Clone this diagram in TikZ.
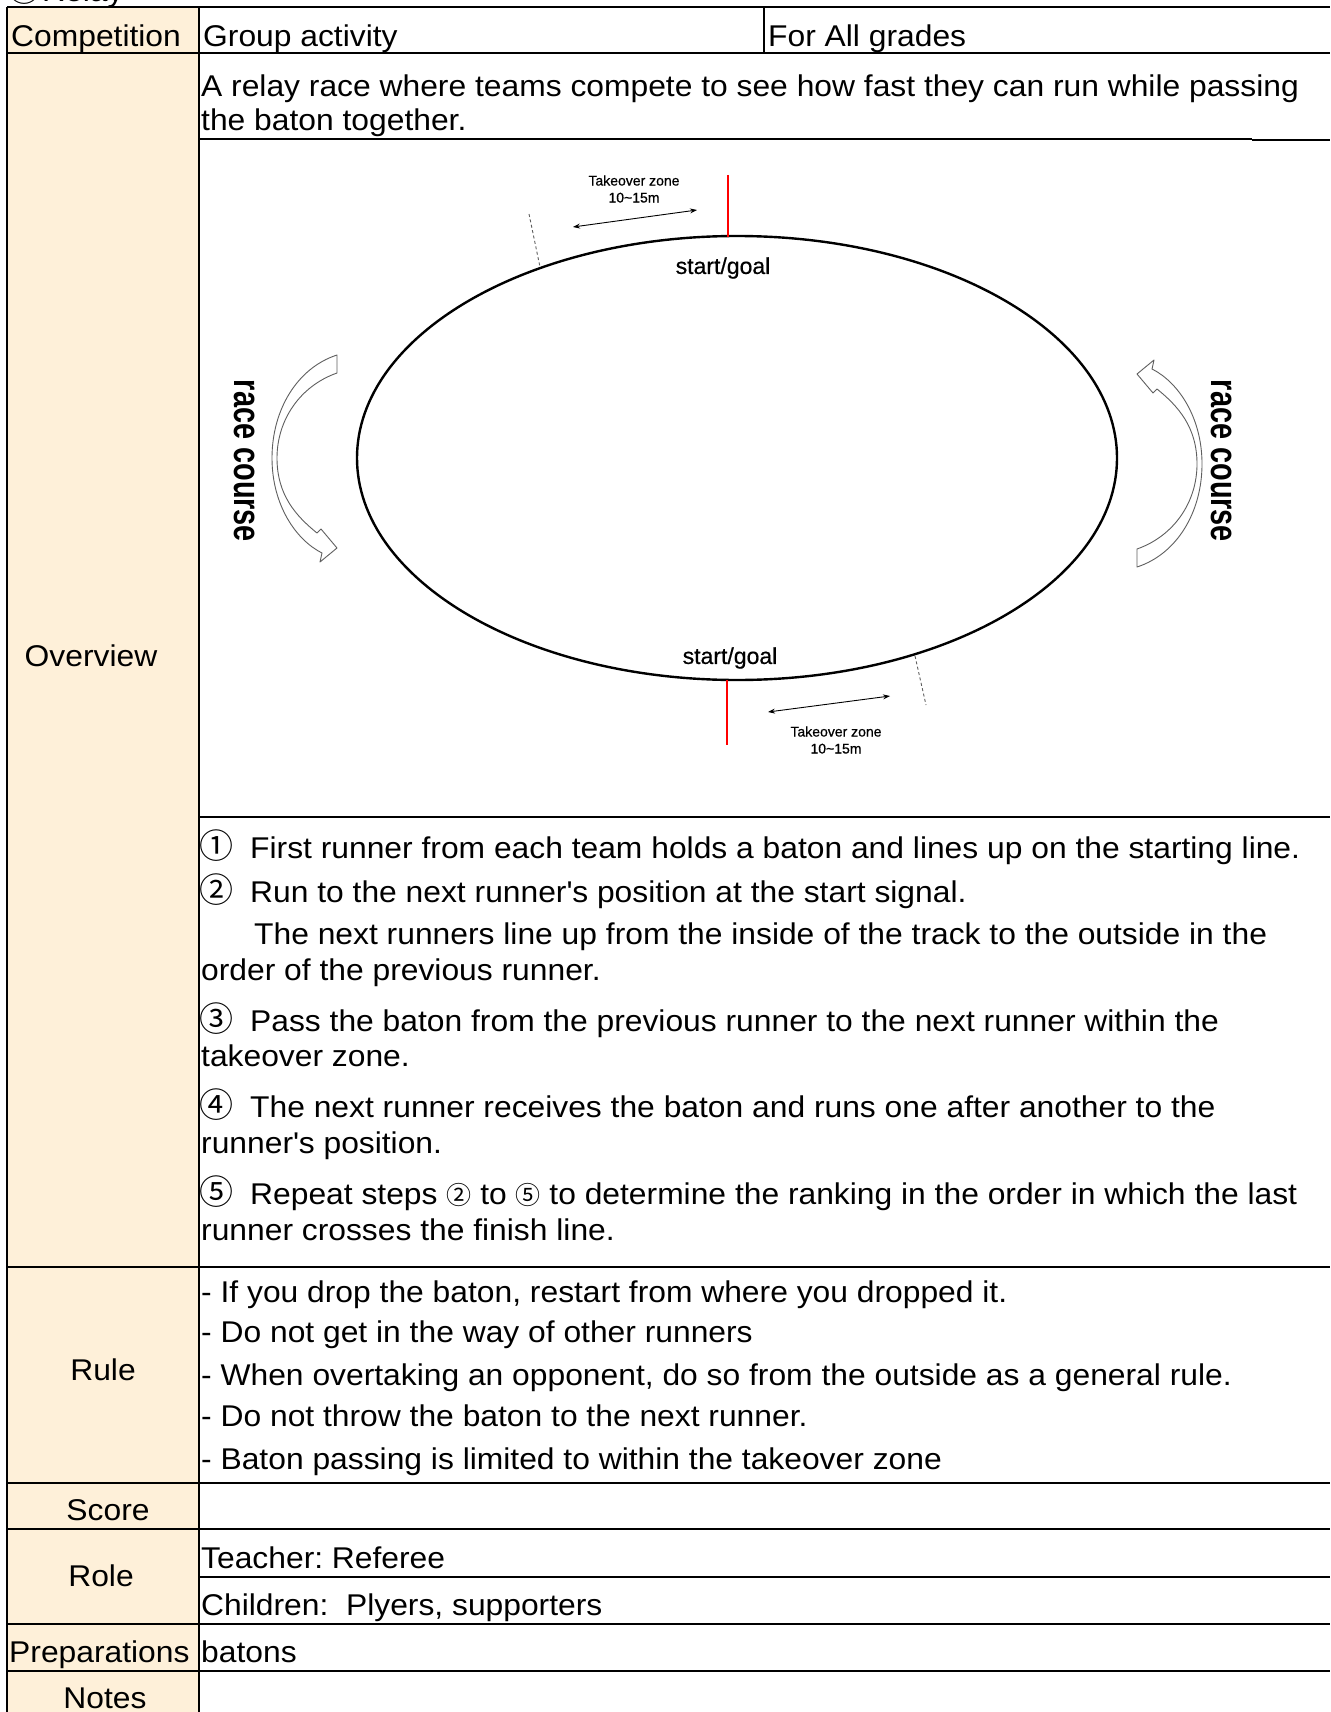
\documentclass[tikz,border=0pt]{standalone}
\usepackage{fontspec}
\setmainfont{Liberation Sans}[FakeStretch=1.06]
\newfontfamily\circfont{Noto Sans CJK JP}
\newfontfamily\trackfont{Liberation Sans}[FakeBold=0.6]
\newfontfamily\coursefont{Liberation Sans}[FakeStretch=0.76]
\usetikzlibrary{arrows.meta}
\definecolor{headfill}{RGB}{254,240,217}
\definecolor{arrowgray}{RGB}{95,95,95}
\tikzset{
  rowline/.style={line width=2pt},
  thinrow/.style={line width=1.2pt},
  celltext/.style={anchor=base west, inner sep=0pt, font=\fontsize{30}{36}\selectfont},
  headtext/.style={anchor=base, inner sep=0pt, font=\fontsize{30}{36}\selectfont},
  circnum/.style={anchor=base west, inner sep=0pt, font=\circfont\fontsize{34}{36}\selectfont},
  goaltext/.style={inner sep=0pt, font=\trackfont\fontsize{23}{26}\selectfont},
  zonetext/.style={inner sep=0pt, align=center, font=\trackfont\fontsize{14}{17}\selectfont},
  coursetext/.style={inner sep=0pt, rotate=-90, font=\coursefont\bfseries\fontsize{38}{40}\selectfont},
  goalmark/.style={red, line width=2pt},
  zoneedge/.style={arrowgray, line width=0.9pt, dash pattern=on 3pt off 2.5pt},
  zonearrow/.style={{Stealth[length=7pt,width=5pt]}-{Stealth[length=7pt,width=5pt]}, line width=0.9pt},
  turnarrow/.style={draw=arrowgray, fill=white, line width=0.9pt, line join=round}
}
\newcommand{\smallcirc}[1]{{\circfont\fontsize{25}{26}\selectfont #1}}
\frenchspacing
\begin{document}
\begin{tikzpicture}[x=1pt, y=-1pt]
	\fill[white] (0,0) rectangle (1330,1712);
	\useasboundingbox (0,0) rectangle (1330,1712);
	\fill[headfill] (7,7) rectangle (199,1712);
	%\draw[dotted] (0,0) grid[step=100] (1330,1712);
	\foreach \y in {7,53,1267,1483,1529,1624,1671}{
		\draw[rowline] (7,\y) -- (1330,\y);
	}
	\foreach \y in {817,1577}{
		\draw[rowline] (199,\y) -- (1330,\y);
	}
	\draw[thinrow] (199,139) -- (1252,139);
	\draw[rowline] (1252,140) -- (1330,140);
	\draw[rowline] (7,7) -- (7,1712) (199,7) -- (199,1712) (764,7) -- (764,53);

	% title, cut at the top edge
	\node[circnum] (titlenum) at (7,2) {①};
	\node[celltext] (title) at (42,2) {Relay};

	% left column
	\node[celltext] (comp) at (11,47) {Competition};
	\node[headtext] (overview) at (91,666) {Overview};
	\node[headtext] (rule) at (103,1380) {Rule};
	\node[headtext] (score) at (108,1520) {Score};
	\node[headtext] (role) at (101,1586) {Role};
	\node[celltext] (prep) at (9,1662) {Preparations};
	\node[headtext] (notes) at (105,1708) {Notes};

	% right column
	\node[celltext] (group) at (203,47) {Group activity};
	\node[celltext] (grades) at (768,47) {For All grades};
	\node[celltext] (ov1) at (201,97) {A relay race where teams compete to see how fast they can run while passing};
	\node[celltext] (ov2) at (201,131) {the baton together.};

	\node[circnum] (c1) at (199,858) {①};
	\node[celltext] (s1) at (250,858) {First runner from each team holds a baton and lines up on the starting line.};
	\node[circnum] (c2) at (199,902) {②};
	\node[celltext] (s2) at (250,902) {Run to the next runner\textquotesingle s position at the start signal.};
	\node[celltext] (s2b) at (254,944) {The next runners line up from the inside of the track to the outside in the};
	\node[celltext] (s2c) at (201,980) {order of the previous runner.};
	\node[circnum] (c3) at (199,1031) {③};
	\node[celltext] (s3) at (250,1031) {Pass the baton from the previous runner to the next runner within the};
	\node[celltext] (s3b) at (201,1066) {takeover zone.};
	\node[circnum] (c4) at (199,1117) {④};
	\node[celltext] (s4) at (250,1117) {The next runner receives the baton and runs one after another to the};
	\node[celltext] (s4b) at (201,1153) {runner\textquotesingle s position.};
	\node[circnum] (c5) at (199,1204) {⑤};
	\node[celltext] (s5) at (250,1204) {Repeat steps \smallcirc{②} to \smallcirc{⑤} to determine the ranking in the order in which the last};
	\node[celltext] (s5b) at (201,1240) {runner crosses the finish line.};

	\node[celltext] (r1) at (201,1302) {- If you drop the baton, restart from where you dropped it.};
	\node[celltext] (r2) at (201,1342) {- Do not get in the way of other runners};
	\node[celltext] (r3) at (201,1385) {- When overtaking an opponent, do so from the outside as a general rule.};
	\node[celltext] (r4) at (201,1426) {- Do not throw the baton to the next runner.};
	\node[celltext] (r5) at (201,1469) {- Baton passing is limited to within the takeover zone};

	\node[celltext] (teacher) at (201,1568) {Teacher: Referee};
	\node[celltext] (children) at (201,1615) {Children:\ \ Plyers, supporters};
	\node[celltext] (batons) at (201,1662) {batons};

	% course
	\draw[line width=2.4pt] (737,458) ellipse [x radius=380, y radius=222];
	\coordinate (markTop) at (728,175);
	\coordinate (markTopEnd) at (728,237);
	\coordinate (markBot) at (727,680);
	\coordinate (markBotEnd) at (727,745);
	\draw[goalmark] (markTop) -- (markTopEnd);
	\draw[goalmark] (markBot) -- (markBotEnd);
	\node[goaltext] (goalTop) at (723,268) {start/goal};
	\node[goaltext] (goalBot) at (730,658) {start/goal};

	\coordinate (zoneTopA) at (573,227);
	\coordinate (zoneTopB) at (697,210);
	\coordinate (zoneBotA) at (768,712);
	\coordinate (zoneBotB) at (890,696);
	\draw[zonearrow] (zoneTopA) -- (zoneTopB);
	\draw[zonearrow] (zoneBotA) -- (zoneBotB);
	\coordinate (edgeTopA) at (529,214);
	\coordinate (edgeTopB) at (540,267);
	\coordinate (edgeBotA) at (915,656);
	\coordinate (edgeBotB) at (926,705);
	\draw[zoneedge] (edgeTopA) -- (edgeTopB);
	\draw[zoneedge] (edgeBotA) -- (edgeBotB);
	\node[zonetext] (zoneTop) at (634,189) {Takeover zone\\10\textasciitilde15m};
	\node[zonetext] (zoneBot) at (836,740) {Takeover zone\\10\textasciitilde15m};

	\foreach \r in {0,180}{
		\filldraw[turnarrow, rotate around={\r:(737,461)}]
		(337,355) .. controls (297,368) and (272,410) .. (272,458)
		.. controls (272,505) and (296,540) .. (322,553)
		-- (320,562) -- (337,548) -- (321,529) -- (317,533)
		.. controls (296,516) and (277,495) .. (277,458)
		.. controls (277,420) and (300,386) .. (337,373) -- cycle;
	}
	\node[coursetext] (courseL) at (245,461) {race course};
	\node[coursetext] (courseR) at (1222,461) {race course};
\end{tikzpicture}
\end{document}
